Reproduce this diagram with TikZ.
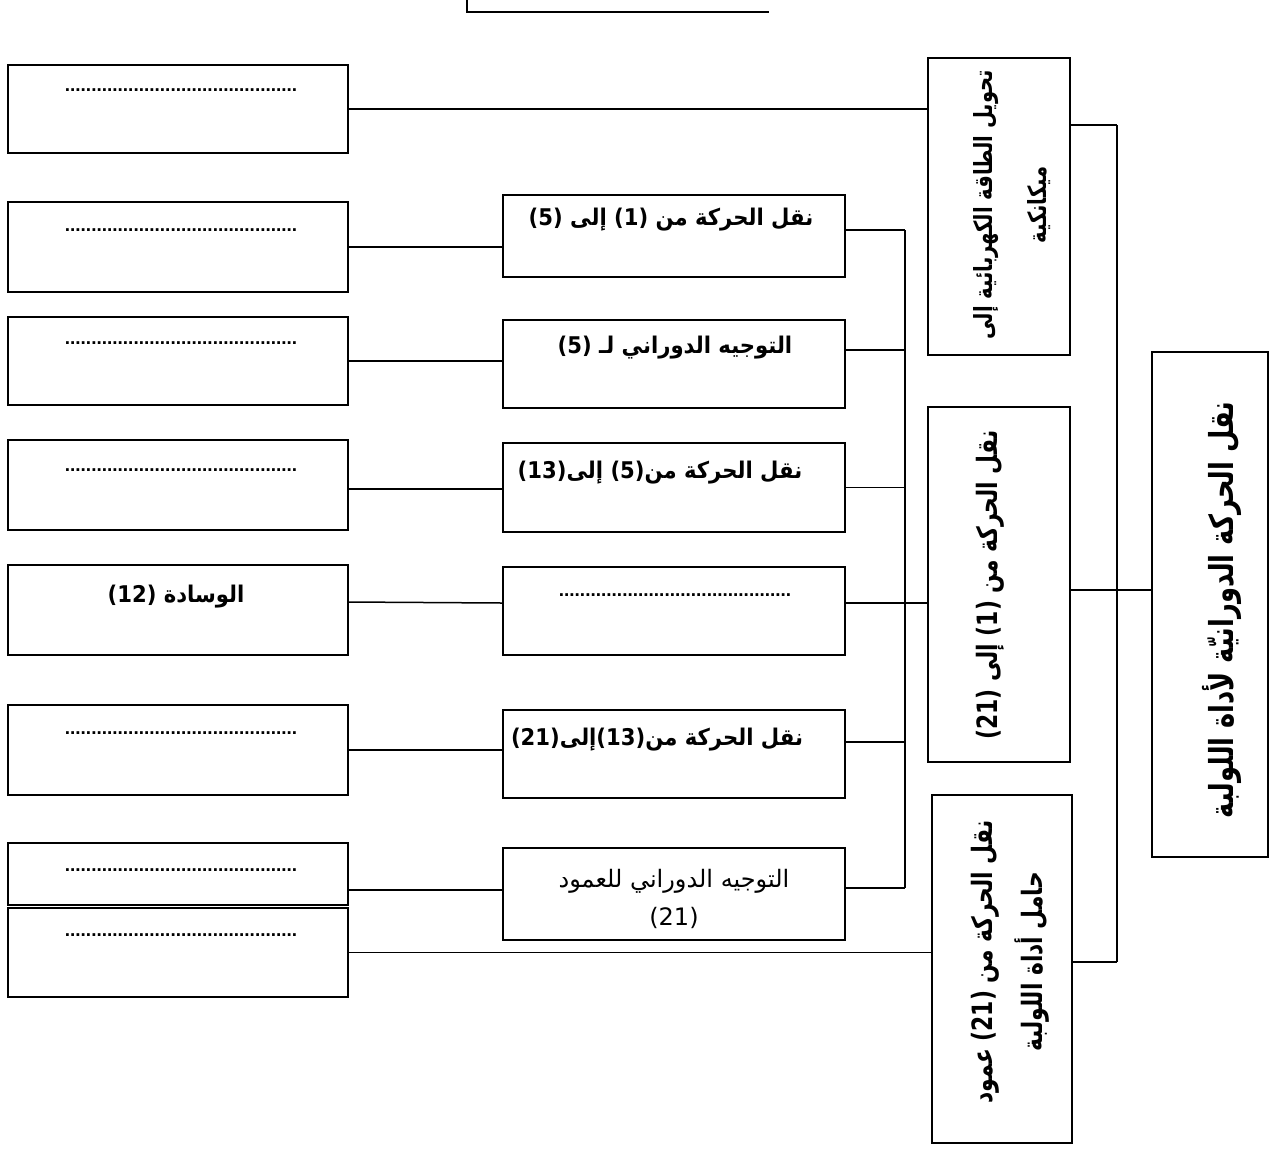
\documentclass[tikz,border=0pt]{standalone}
\usepackage{fontspec}
\setmainfont{DejaVu Sans}
\newfontfamily\arb[Script=Arabic]{DejaVu Sans}
\newfontfamily\arbm[Script=Arabic,FakeStretch=0.92]{DejaVu Sans}
\newfontfamily\numm[FakeStretch=0.92]{DejaVu Sans}
\newfontfamily\arbc[Script=Arabic,FakeStretch=0.78]{DejaVu Sans}
\newfontfamily\numc[FakeStretch=0.78]{DejaVu Sans}
\newfontfamily\dotf{Liberation Sans}
\TeXXeTstate=1
\newcommand\ar[1]{{\arb\beginR #1\endR}}
\newcommand\nm[1]{\beginL{\rmfamily #1}\endL{}}
\newcommand\arm[1]{{\arbm\beginR #1\endR}}
\newcommand\nmm[1]{\beginL{\numm #1}\endL{}}
\newcommand\arc[1]{{\arbc\beginR #1\endR}}
\newcommand\nmc[1]{\beginL{\numc #1}\endL{}}
\newcommand\dotrow{............................................}
\begin{document}
\begin{tikzpicture}[x=0.5pt,y=-0.5pt,
  box/.style={draw, line width=0.9pt, rectangle, inner sep=0pt},
  conn/.style={line width=0.75pt},
  btxt/.style={inner sep=0pt, font=\bfseries\fontsize{11.5}{13}\selectfont},
  rtxt/.style={inner sep=0pt, align=center, font=\fontsize{12}{19}\selectfont},
  vtxt/.style={inner sep=0pt, rotate=90, align=center, font=\bfseries\fontsize{12.5}{27}\selectfont},
  dotsty/.style={inner sep=0pt, font=\dotf\bfseries\fontsize{9.5}{10}\selectfont}]
\useasboundingbox (0,0) rectangle (1270,1148);
% top partial box
\draw[line width=0.9pt] (467,0) -- (467,12) -- (769,12);
% left boxes
\node[box, minimum width=170pt, minimum height=44pt] (L1) at (178,109) {};
\node[box, minimum width=170pt, minimum height=45pt] (L2) at (178,247) {};
\node[box, minimum width=170pt, minimum height=44pt] (L3) at (178,361) {};
\node[box, minimum width=170pt, minimum height=45pt] (L4) at (178,485) {};
\node[box, minimum width=170pt, minimum height=45pt] (L5) at (178,610) {};
\node[box, minimum width=170pt, minimum height=45pt] (L6) at (178,750) {};
\node[box, minimum width=170pt, minimum height=31pt] (L7) at (178,874) {};
\node[box, minimum width=170pt, minimum height=44.5pt] (L8) at (178,952.5) {};
\node[dotsty] (d1) at (181,90) {\dotrow};
\node[dotsty] (d2) at (181,230) {\dotrow};
\node[dotsty] (d3) at (181,343) {\dotrow};
\node[dotsty] (d4) at (181,470) {\dotrow};
\node[btxt] (t5) at (176,597) {\arm{الوسادة \nmm{(12)}}};
\node[dotsty] (d6) at (181,733) {\dotrow};
\node[dotsty] (d7) at (181,870) {\dotrow};
\node[dotsty] (d8) at (181,935) {\dotrow};
% middle boxes
\node[box, minimum width=171pt, minimum height=41pt] (M1) at (674,236) {};
\node[box, minimum width=171pt, minimum height=44pt] (M2) at (674,364) {};
\node[box, minimum width=171pt, minimum height=44.5pt] (M3) at (674,487.5) {};
\node[box, minimum width=171pt, minimum height=44pt] (M4) at (674,611) {};
\node[box, minimum width=171pt, minimum height=44pt] (M5) at (674,754) {};
\node[box, minimum width=171pt, minimum height=46pt] (M6) at (674,894) {};
\node[btxt] (m1t) at (671,220) {\arm{نقل الحركة من \nmm{(1)} إلى \nmm{(5)}}};
\node[btxt] (m2t) at (675,348) {\arm{التوجيه الدوراني لـ \nmm{(5)}}};
\node[btxt] (m3t) at (660,473) {\arm{نقل الحركة من\nmm{(5)} إلى\nmm{(13)}}};
\node[dotsty] (m4t) at (675,595) {\dotrow};
\node[btxt] (m5t) at (657,740) {\arm{نقل الحركة من\nmm{(13)}إلى\nmm{(21)}}};
\node[rtxt] (m6t) at (674,899) {\ar{التوجيه الدوراني للعمود}\\ \nm{(21)}};
% right column boxes
\node[box, minimum width=71pt, minimum height=148.5pt] (A) at (999,206.5) {};
\node[box, minimum width=71pt, minimum height=177.5pt] (B) at (999,584.5) {};
\node[box, minimum width=70pt, minimum height=174pt] (C) at (1002,969) {};
\node[box, minimum width=58pt, minimum height=252.5pt] (D) at (1210,604.5) {};
\node[vtxt] (At) at (1012,205) {\arc{تحويل الطاقة الكهربائية إلى}\\ \arc{ميكانكية}};
\node[vtxt, font=\bfseries\fontsize{14}{16}\selectfont] (Bt) at (990,585) {\arc{نقل الحركة من \nmc{(1)} إلى \nmc{(21)}}};
\node[vtxt, font=\bfseries\fontsize{14}{25}\selectfont] (Ct) at (1010,962) {\arc{نقل الحركة من \nmc{(21)} عمود}\\ \arc{حامل أداة اللولبة}};
\node[vtxt, font=\bfseries\fontsize{16.5}{18}\selectfont] (Dt) at (1222,610) {\arc{نقل الحركة الدورانيّة لأداة اللولبة}};
% buses
\coordinate (b2t) at (905,230);
\coordinate (b2b) at (905,888);
\coordinate (b1t) at (1117,125);
\coordinate (b1m) at (1117,590);
\coordinate (b1b) at (1117,962);
\draw[conn] (b2t) -- (b2b);
\draw[conn] (b1t) -- (b1b);
% connectors left -> middle / right
\draw[conn] (L1.east) -- (A.west |- L1.east);
\draw[conn] (L2.east) -- (M1.west |- L2.east);
\draw[conn] (L3.east) -- (M2.west |- L3.east);
\draw[conn] ([yshift=-2pt]L4.east) -- ([yshift=-2pt]M3.west |- L4.east);
\coordinate (m4r) at ([yshift=4pt]M4.east);
\draw[conn] ([yshift=4pt]L5.east) -- ([yshift=4pt]M4.west);
\draw[conn] (L6.east) -- (M5.west |- L6.east);
\coordinate (l7r) at ([yshift=-8pt]L7.east);
\draw[conn] (l7r) -- (M6.west |- l7r);
\draw[conn] (L8.east) -- (C.west |- L8.east);
% middle -> bus2
\draw[conn] ([yshift=3pt]M1.east) -- ([yshift=3pt]M1.east -| b2t);
\draw[conn] ([yshift=7pt]M2.east) -- ([yshift=7pt]M2.east -| b2t);
\draw[conn] (M3.east) -- (M3.east -| b2t);
\draw[conn] (m4r) -- (B.west |- m4r);
\draw[conn] ([yshift=6pt]M5.east) -- ([yshift=6pt]M5.east -| b2t);
\draw[conn] ([yshift=3pt]M6.east) -- ([yshift=3pt]M6.east -| b2t);
% right column -> bus1 -> D
\draw[conn] (A.east |- b1t) -- (b1t);
\draw[conn] (B.east |- b1m) -- (D.west |- b1m);
\draw[conn] (C.east |- b1b) -- (b1b);
\end{tikzpicture}
\end{document}
